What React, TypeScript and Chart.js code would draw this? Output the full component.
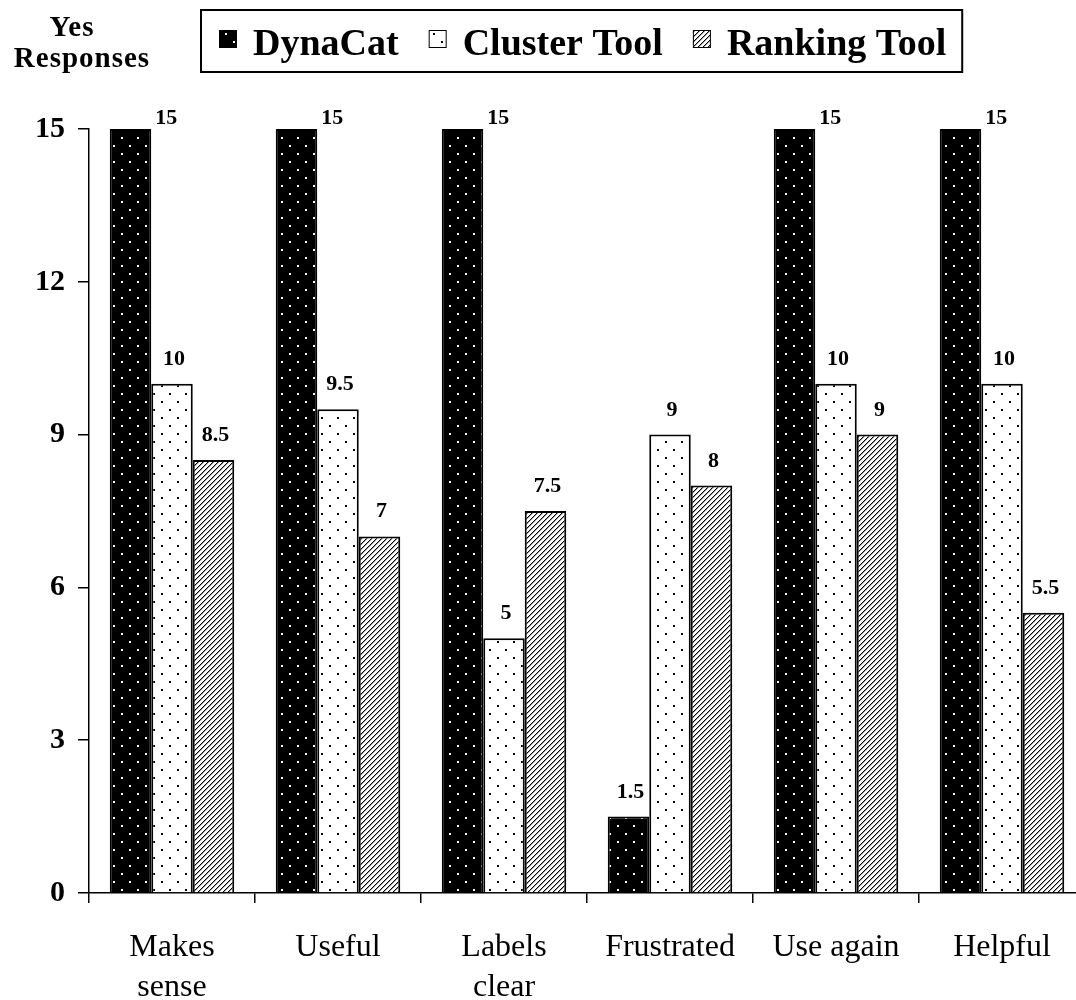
import React, { useEffect, useRef } from "react";
import { Chart, registerables } from "chart.js";

Chart.register(...registerables);

// Survey answers per question, one array per tool
const categories: string[][] = [
  ["Makes", "sense"],
  ["Useful"],
  ["Labels", "clear"],
  ["Frustrated"],
  ["Use again"],
  ["Helpful"],
];
const dynaCat = [15, 15, 15, 1.5, 15, 15];
const clusterTool = [10, 9.5, 5, 9, 10, 10];
const rankingTool = [8.5, 7, 7.5, 8, 9, 5.5];
const seriesNames = ["DynaCat", "Cluster Tool", "Ranking Tool"];
const yTicks = [0, 3, 6, 9, 12, 15];
const yTitle = ["Yes", "Responses"];

const SERIF = '"Liberation Serif", "Times New Roman", serif';
const CANVAS_W = 1100;
const CANVAS_H = 1000;

function tile(size: number, paint: (g: CanvasRenderingContext2D) => void) {
  const c = document.createElement("canvas");
  c.width = size;
  c.height = size;
  const g = c.getContext("2d")!;
  paint(g);
  return c;
}

function dotTile(bg: string, dot: string) {
  return tile(16, (g) => {
    g.fillStyle = bg;
    g.fillRect(0, 0, 16, 16);
    g.fillStyle = dot;
    g.fillRect(1, 1, 2, 2);
    g.fillRect(9, 9, 2, 2);
  });
}

function hatchTile() {
  const s = 5;
  return tile(s, (g) => {
    g.fillStyle = "#fff";
    g.fillRect(0, 0, s, s);
    for (let i = 0; i < s; i++) {
      g.fillStyle = "#000";
      g.fillRect(i, s - 1 - i, 1, 1);
      g.fillStyle = "#9a9a9a";
      g.fillRect((i + 1) % s, s - 1 - i, 1, 1);
    }
  });
}

export default function App() {
  const canvasRef = useRef<HTMLCanvasElement | null>(null);

  useEffect(() => {
    const canvas = canvasRef.current;
    if (!canvas) return;
    const ctx = canvas.getContext("2d")!;
    const fills = [
      ctx.createPattern(dotTile("#000", "#fff"), "repeat")!,
      ctx.createPattern(dotTile("#fff", "#000"), "repeat")!,
      ctx.createPattern(hatchTile(), "repeat")!,
    ];
    const series = [dynaCat, clusterTool, rankingTool];
    const yMax = yTicks[yTicks.length - 1];

    const valueLabels = {
      id: "valueLabels",
      afterDatasetsDraw(chart: any) {
        const c = chart.ctx;
        c.save();
        c.fillStyle = "#000";
        c.font = `bold 22px ${SERIF}`;
        c.textBaseline = "alphabetic";
        chart.data.datasets.forEach((ds: any, di: number) => {
          const meta = chart.getDatasetMeta(di);
          meta.data.forEach((bar: any, i: number) => {
            const v = ds.data[i];
            const txt = String(v);
            if (v >= yMax) {
              c.textAlign = "left";
              c.fillText(txt, bar.x + bar.width / 2 + 4, bar.y - 5);
            } else {
              c.textAlign = "center";
              c.fillText(txt, bar.x + 2, bar.y - 19);
            }
          });
        });
        c.restore();
      },
    };

    const legendAndTitle = {
      id: "legendAndTitle",
      afterDraw(chart: any) {
        const c = chart.ctx;
        c.save();
        // y-axis caption
        c.fillStyle = "#000";
        c.font = `bold 29px ${SERIF}`;
        (c as any).letterSpacing = "1px";
        c.textAlign = "center";
        c.textBaseline = "alphabetic";
        c.fillText(yTitle[0], 72, 36);
        c.fillText(yTitle[1], 82, 67);
        (c as any).letterSpacing = "0px";

        // legend
        const startX = 219;
        const sw = 18;
        c.font = `bold 38px ${SERIF}`;
        c.textAlign = "left";
        let x = startX;
        seriesNames.forEach((name, i) => {
          c.fillStyle = fills[i];
          c.fillRect(x, 30, sw, sw);
          c.strokeStyle = "#000";
          c.lineWidth = 1;
          c.strokeRect(x + 0.5, 30.5, sw - 1, sw - 1);
          x += sw + 16;
          c.fillStyle = "#000";
          c.fillText(name, x, 55);
          x += c.measureText(name).width;
          if (i < seriesNames.length - 1) x += 30;
        });
        c.strokeStyle = "#000";
        c.lineWidth = 2;
        c.strokeRect(startX - 18, 10, x + 16 - (startX - 18), 62);
        c.restore();
      },
    };

    const chart = new Chart(canvas, {
      type: "bar",
      data: {
        labels: categories,
        datasets: series.map((d, i) => ({
          label: seriesNames[i],
          data: d,
          backgroundColor: fills[i],
          borderColor: "#000",
          borderWidth: 2,
          borderSkipped: "bottom",
          categoryPercentage: 0.75,
          barPercentage: 1,
        })),
      },
      options: {
        responsive: false,
        animation: false,
        devicePixelRatio: 1,
        layout: { padding: { top: 129, right: 15, left: 0, bottom: 0 } },
        plugins: {
          legend: { display: false },
          tooltip: { enabled: false },
        },
        scales: {
          x: {
            type: "category",
            offset: true,
            grid: {
              offset: true,
              drawOnChartArea: false,
              drawTicks: true,
              tickLength: 10,
              color: "#000",
              lineWidth: 1.5,
            },
            border: { display: true, color: "#000", width: 1.5 },
            ticks: {
              color: "#000",
              font: { family: SERIF, size: 32, lineHeight: 1.25 },
              padding: 25,
              maxRotation: 0,
              autoSkip: false,
            },
            afterFit(scale: any) {
              scale.height = 107;
            },
          },
          y: {
            min: 0,
            max: yMax,
            afterBuildTicks(scale: any) {
              scale.ticks = yTicks.map((v) => ({ value: v }));
            },
            grid: {
              drawOnChartArea: false,
              drawTicks: true,
              tickLength: 11,
              color: "#000",
              lineWidth: 1.5,
            },
            border: { display: true, color: "#000", width: 1.5 },
            ticks: {
              color: "#000",
              font: { family: SERIF, size: 30, weight: "bold" },
              padding: 13,
            },
            afterFit(scale: any) {
              scale.width = 89;
            },
          },
        },
      },
      plugins: [valueLabels, legendAndTitle],
    } as any);

    return () => chart.destroy();
  }, []);

  return (
    <div
      style={{
        position: "fixed",
        left: 0,
        top: 0,
        width: 1076,
        height: 1000,
        overflow: "hidden",
        background: "#fff",
      }}
    >
      <canvas
        ref={canvasRef}
        width={CANVAS_W}
        height={CANVAS_H}
        style={{ display: "block", width: CANVAS_W, height: CANVAS_H }}
      />
    </div>
  );
}
